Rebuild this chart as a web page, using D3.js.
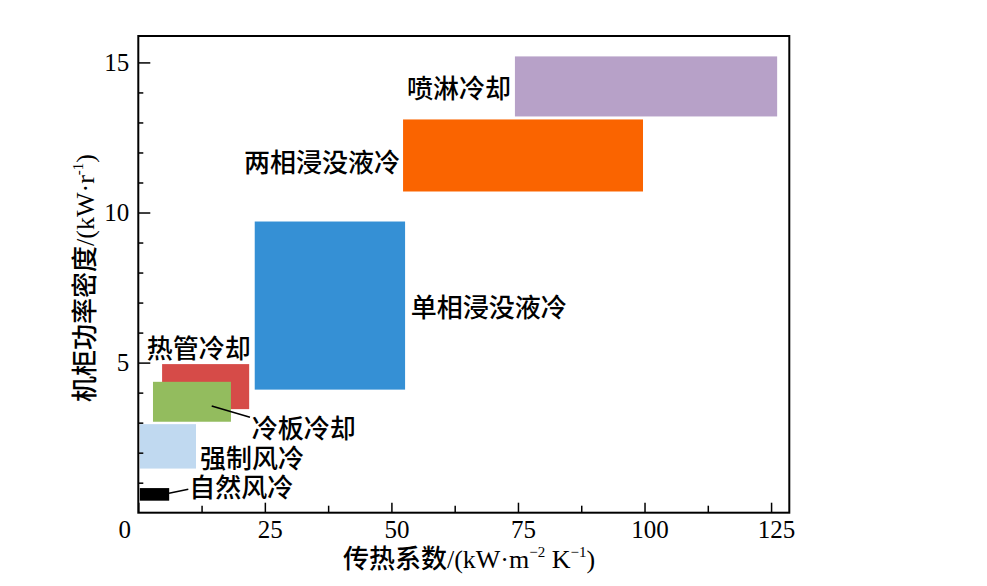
<!DOCTYPE html>
<html>
<head>
<meta charset="utf-8">
<script src="https://cdn.jsdelivr.net/npm/d3@7/dist/d3.min.js"></script>
<style>
  html, body { margin: 0; padding: 0; background: #fff; }
  svg { display: block; }
</style>
</head>
<body>
<svg id="chart" width="987" height="586"></svg>
<script>
// ---- data ----
const categories = ["喷淋冷却", "两相浸没液冷", "单相浸没液冷", "热管冷却", "冷板冷却", "强制风冷", "自然风冷"];
const xMin = [74.4, 52.3, 23.0, 4.7, 2.9, 0.3, 0.3];
const xMax = [126.2, 99.7, 52.7, 21.9, 18.3, 11.4, 6.1];
const yMin = [13.2, 10.7, 4.1, 3.45, 3.03, 1.47, 0.40];
const yMax = [15.2, 13.1, 9.7, 4.95, 4.36, 2.95, 0.82];
const colors = ["#b7a1c8", "#fa6400", "#3590d5", "#d64b48", "#93bc5e", "#c0d9f0", "#000000"];
const xTicks = [0, 25, 50, 75, 100, 125];
const yTicks = [5, 10, 15];

// ---- layout ----
const svg = d3.select("#chart");
const L = 138.3, R = 789.3, T = 36, B = 512.7;
const x = d3.scaleLinear().domain([0, 128.6]).range([L, R]);
const y = d3.scaleLinear().domain([0, 15.88]).range([B, T]);
const serif = "'Liberation Serif', 'Times New Roman', serif";
const cjk = "'Noto Sans CJK SC', sans-serif";

// rectangles
svg.append("g").selectAll("rect").data(categories).join("rect")
  .attr("x", (d, i) => x(xMin[i]))
  .attr("y", (d, i) => y(yMax[i]))
  .attr("width", (d, i) => x(xMax[i]) - x(xMin[i]))
  .attr("height", (d, i) => y(yMin[i]) - y(yMax[i]))
  .attr("fill", (d, i) => colors[i]);

// axes
const gx = svg.append("g").attr("transform", `translate(0,${B})`);
gx.call(d3.axisBottom(x).tickValues(d3.range(12.5, 128, 25)).tickSize(-7).tickFormat(""));
gx.call(g => g.selectAll(".tick line").attr("stroke-width", 1.5));
const gx2 = svg.append("g").attr("transform", `translate(0,${B})`);
gx2.call(d3.axisBottom(x).tickValues(xTicks).tickSize(-10).tickPadding(8).tickFormat(d3.format("d")));
gx2.selectAll(".tick line").attr("stroke-width", 1.5);
gx2.selectAll(".tick text").attr("font-family", serif).attr("font-size", 25).attr("fill", "#000")
  .attr("dx", d => d === 0 ? -14 : 5);
gx2.select(".domain").remove();
gx.select(".domain").remove();

const gy = svg.append("g").attr("transform", `translate(${L},0)`);
gy.call(d3.axisLeft(y).tickValues(d3.range(1, 16).filter(v => v % 5 !== 0)).tickSize(-5).tickFormat(""));
gy.selectAll(".tick line").attr("stroke-width", 1.5);
gy.select(".domain").remove();
const gy2 = svg.append("g").attr("transform", `translate(${L},0)`);
gy2.call(d3.axisLeft(y).tickValues(yTicks).tickSize(-12).tickPadding(9).tickFormat(d3.format("d")));
gy2.selectAll(".tick line").attr("stroke-width", 1.5);
gy2.selectAll(".tick text").attr("font-family", serif).attr("font-size", 25).attr("fill", "#000");
gy2.select(".domain").remove();

// frame
svg.append("rect").attr("x", L).attr("y", T).attr("width", R - L).attr("height", B - T)
  .attr("fill", "none").attr("stroke", "#000").attr("stroke-width", 2);

// category labels
const labelPos = [
  { x: 407, y: 86.7, anchor: "start" },
  { x: 400, y: 160, anchor: "end" },
  { x: 410.7, y: 305, anchor: "start" },
  { x: 146.7, y: 346.7, anchor: "start" },
  { x: 251.7, y: 426.7, anchor: "start" },
  { x: 200, y: 456.7, anchor: "start" },
  { x: 189.3, y: 485, anchor: "start" }
];
svg.append("g").selectAll("text").data(categories).join("text")
  .attr("x", (d, i) => labelPos[i].x)
  .attr("y", (d, i) => labelPos[i].y)
  .attr("text-anchor", (d, i) => labelPos[i].anchor)
  .attr("dominant-baseline", "central")
  .attr("font-family", cjk).attr("font-size", 26).attr("font-weight", 500).attr("fill", "#000")
  .text(d => d);

// leader lines
const leaders = [[211.7, 406, 250, 417.3], [169, 493.3, 188.3, 489.3]];
svg.append("g").selectAll("line").data(leaders).join("line")
  .attr("x1", d => d[0]).attr("y1", d => d[1]).attr("x2", d => d[2]).attr("y2", d => d[3])
  .attr("stroke", "#000").attr("stroke-width", 1.5);

// axis titles
const xt = svg.append("text").attr("x", 469).attr("y", 568).attr("text-anchor", "middle")
  .attr("font-size", 26).attr("fill", "#000");
xt.append("tspan").attr("font-family", cjk).attr("font-weight", 500).text("传热系数");
xt.append("tspan").attr("font-family", serif).text("/(kW·m");
xt.append("tspan").attr("font-family", serif).attr("font-size", 15).attr("dy", -11).text("−2");
xt.append("tspan").attr("font-family", serif).attr("dy", 11).text(" K");
xt.append("tspan").attr("font-family", serif).attr("font-size", 15).attr("dy", -11).text("−1");
xt.append("tspan").attr("font-family", serif).attr("dy", 11).text(")");

const yt = svg.append("text").attr("transform", "translate(94,278) rotate(-90)").attr("text-anchor", "middle")
  .attr("font-size", 26).attr("fill", "#000");
yt.append("tspan").attr("font-family", cjk).attr("font-weight", 500).text("机柜功率密度");
yt.append("tspan").attr("font-family", serif).text("/(kW·r");
yt.append("tspan").attr("font-family", serif).attr("font-size", 15).attr("dy", -11).text("-1");
yt.append("tspan").attr("font-family", serif).attr("dy", 11).text(")");
</script>
</body>
</html>
